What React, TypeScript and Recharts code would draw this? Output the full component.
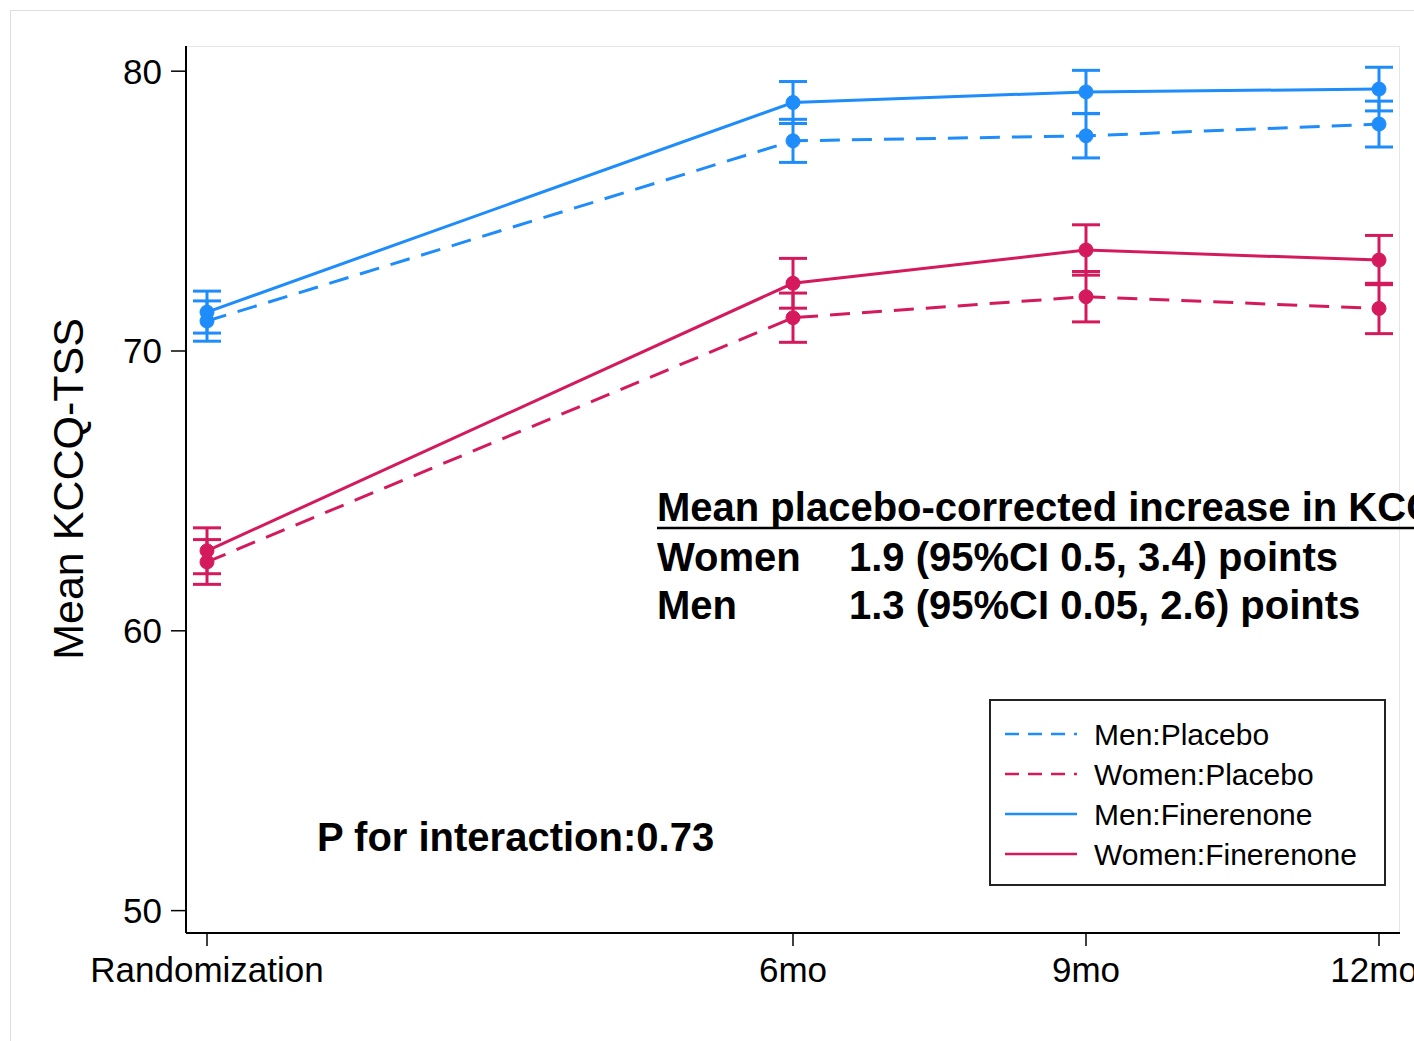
import React from 'react';
import { LineChart, Line, XAxis, YAxis, ErrorBar } from 'recharts';

const months = [0, 6, 9, 12];
const tickLabels = ['Randomization', '6mo', '9mo', '12mo'];
const yTicks = [50, 60, 70, 80];

const menPlacebo = [71.07, 77.51, 77.69, 78.11];
const menPlaceboErr = [0.72, 0.77, 0.79, 0.82];
const womenPlacebo = [62.46, 71.19, 71.94, 71.52];
const womenPlaceboErr = [0.8, 0.88, 0.9, 0.9];
const menFinerenone = [71.39, 78.88, 79.26, 79.36];
const menFinerenoneErr = [0.75, 0.75, 0.77, 0.78];
const womenFinerenone = [62.86, 72.42, 73.61, 73.25];
const womenFinerenoneErr = [0.82, 0.89, 0.9, 0.88];

const BLUE = '#1E8CFA';
const RED = '#D41A5C';
const FONT = '"Liberation Sans", Arial, Helvetica, sans-serif';

const series = [
  { key: 'mp', name: 'Men:Placebo', color: BLUE, dashed: true, values: menPlacebo, err: menPlaceboErr },
  { key: 'wp', name: 'Women:Placebo', color: RED, dashed: true, values: womenPlacebo, err: womenPlaceboErr },
  { key: 'mf', name: 'Men:Finerenone', color: BLUE, dashed: false, values: menFinerenone, err: menFinerenoneErr },
  { key: 'wf', name: 'Women:Finerenone', color: RED, dashed: false, values: womenFinerenone, err: womenFinerenoneErr },
];

const data = months.map((m, i) => {
  const row: Record<string, number> = { month: m };
  series.forEach((s) => {
    row[s.key] = s.values[i];
    row[s.key + 'Err'] = s.err[i];
  });
  return row;
});

const labelFor = (v: number) => tickLabels[months.indexOf(v)] ?? '';

const Overlay = () => (
  <svg
    width={1414}
    height={1041}
    style={{ position: 'absolute', left: 0, top: 0, pointerEvents: 'none' }}
    fontFamily={FONT}
  >
    <rect x={10.5} y={10.5} width={1500} height={1100} fill="none" stroke="#dddddd" />
    <line x1={187} y1={46.5} x2={1400} y2={46.5} stroke="#e6e6e6" />
    <line x1={1399.5} y1={46} x2={1399.5} y2={932} stroke="#e6e6e6" />

    <text x={68} y={489} fontSize={43} textAnchor="middle" dominantBaseline="central" transform="rotate(-90 68 489)" fill="#000">
      Mean KCCQ-TSS
    </text>

    <g fontWeight="bold" fontSize={40} fill="#000">
      <text x={657} y={521}>Mean placebo-corrected increase in KCCQ-TSS</text>
      <line x1={657} y1={528} x2={1414} y2={528} stroke="#000" strokeWidth={2.5} />
      <text x={657} y={571}>Women</text>
      <text x={849} y={571}>1.9 (95%CI 0.5, 3.4) points</text>
      <text x={657} y={619}>Men</text>
      <text x={849} y={619}>1.3 (95%CI 0.05, 2.6) points</text>
      <text x={317} y={851}>P for interaction:0.73</text>
    </g>

    <rect x={990} y={700} width={395} height={185} fill="#fff" stroke="#222" strokeWidth={2} />
    {series.map((s, i) => {
      const cy = 734 + i * 40;
      return (
        <g key={s.key}>
          <line
            x1={1005}
            y1={cy}
            x2={1077}
            y2={cy}
            stroke={s.color}
            strokeWidth={2.5}
            strokeDasharray={s.dashed ? '14 9' : undefined}
          />
          <text x={1094} y={cy} fontSize={30} dominantBaseline="central" fill="#000">
            {s.name}
          </text>
        </g>
      );
    })}
  </svg>
);

export default function App() {
  return (
    <div style={{ position: 'absolute', left: 0, top: 0, width: 1414, height: 1041, overflow: 'hidden', background: '#fff' }}>
      <LineChart width={1414} height={1041} data={data} margin={{ top: 46, right: 14, bottom: 48, left: 106 }}>
        <XAxis
          dataKey="month"
          type="number"
          domain={[-0.215, 12.215]}
          allowDataOverflow
          ticks={months}
          tickFormatter={labelFor}
          height={60}
          tickSize={13}
          tickMargin={11}
          axisLine={{ stroke: '#000', strokeWidth: 2 }}
          tickLine={{ stroke: '#000', strokeWidth: 1.5 }}
          tick={{ fill: '#000', fontSize: 35, fontFamily: FONT }}
        />
        <YAxis
          type="number"
          domain={[49.2, 80.9]}
          allowDataOverflow
          ticks={yTicks}
          width={80}
          tickSize={15}
          tickMargin={9}
          axisLine={{ stroke: '#000', strokeWidth: 2 }}
          tickLine={{ stroke: '#000', strokeWidth: 1.5 }}
          tick={{ fill: '#000', fontSize: 35, fontFamily: FONT }}
        />
        {series.map((s) => (
          <Line
            key={s.key}
            dataKey={s.key}
            name={s.name}
            type="linear"
            stroke={s.color}
            strokeWidth={3}
            strokeDasharray={s.dashed ? '20 12' : undefined}
            dot={{ r: 7, fill: s.color, stroke: s.color, strokeWidth: 1, strokeDasharray: '' }}
            isAnimationActive={false}
          >
            <ErrorBar dataKey={s.key + 'Err'} width={14} strokeWidth={3} stroke={s.color} direction="y" />
          </Line>
        ))}
      </LineChart>
      <Overlay />
    </div>
  );
}
